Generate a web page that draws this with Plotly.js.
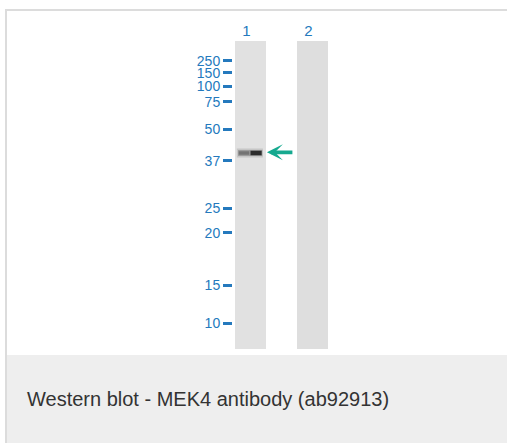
<!DOCTYPE html>
<html>
<head>
<meta charset="utf-8">
<script src="https://cdn.plot.ly/plotly-3.0.1.min.js"></script>
<style>
html,body{margin:0;padding:0;background:#fff;}
#chart{width:507px;height:443px;}
</style>
</head>
<body>
<div id="chart"></div>
<script>
// ---- data ----
const laneLabels = ['1', '2'];
const laneIndex = [1, 2];
const laneRunLength = [308, 308];          // gel run length (migration units)
const ladderKDa = ['250', '150', '100', '75', '50', '37', '25', '20', '15', '10'];
const ladderMigration = [19.7, 31.7, 45, 60.7, 88.3, 119.7, 167.3, 191.7, 244, 282.3];
const bandLane = [1];
const bandMigration = [112];
const captionText = 'Western blot - MEK4 antibody (ab92913)';

// ---- layout helpers (pixel geometry) ----
const W = 507, H = 443;
const mL = 200, mR = 177, mT = 41, mB = 94;
const plotW = W - mL - mR, plotH = H - mT - mB;
const px2paperX = p => (p - mL) / plotW;
const px2paperY = p => (H - mB - p) / plotH;

const blue = '#2479bd';
const laneColors = ['#e1e1e1', '#dedede'];

const traces = [];
traces.push({
  type: 'bar', x: laneIndex, y: laneRunLength, base: 0, width: 0.5,
  marker: {color: laneColors, line: {width: 0}},
  hoverinfo: 'skip', showlegend: false
});
// band: soft halo, light left half, dark right half
bandLane.forEach((ln, i) => {
  const m = bandMigration[i];
  traces.push({type: 'scatter', mode: 'lines', x: [ln - 0.22, ln + 0.2], y: [m, m],
    line: {color: 'rgba(80,80,80,0.18)', width: 9}, hoverinfo: 'skip', showlegend: false});
  traces.push({type: 'scatter', mode: 'lines', x: [ln - 0.2, ln + 0.19], y: [m, m],
    line: {color: 'rgba(60,60,60,0.3)', width: 6}, hoverinfo: 'skip', showlegend: false});
  traces.push({type: 'scatter', mode: 'lines', x: [ln - 0.19, ln - 0.02], y: [m, m],
    line: {color: '#747474', width: 3.5}, hoverinfo: 'skip', showlegend: false});
  traces.push({type: 'scatter', mode: 'lines', x: [ln - 0.0, ln + 0.18], y: [m, m],
    line: {color: '#2c2c2c', width: 4.5}, hoverinfo: 'skip', showlegend: false});
});

const shapes = [
  // caption panel
  {type: 'rect', xref: 'paper', yref: 'paper', x0: px2paperX(7), x1: px2paperX(507),
   y0: px2paperY(443), y1: px2paperY(355), fillcolor: '#eeeeee', line: {width: 0}, layer: 'below'},
  // frame lines
  {type: 'line', xref: 'paper', yref: 'paper', x0: px2paperX(5), x1: px2paperX(507),
   y0: px2paperY(10), y1: px2paperY(10), line: {color: '#dcdcdc', width: 2}},
  {type: 'line', xref: 'paper', yref: 'paper', x0: px2paperX(6), x1: px2paperX(6),
   y0: px2paperY(9), y1: px2paperY(443), line: {color: '#dcdcdc', width: 2}}
];

const annotations = [
  {xref: 'paper', yref: 'paper', x: px2paperX(25), y: px2paperY(399), xanchor: 'left', yanchor: 'middle',
   text: captionText, showarrow: false, font: {family: 'Liberation Sans, Arial, sans-serif', size: 20, color: '#333333'}}
];
bandLane.forEach((ln, i) => {
  annotations.push({x: ln + 0.265, y: bandMigration[i] - 0.7, ax: ln + 0.70, ay: bandMigration[i] - 0.7,
    xref: 'x', yref: 'y', axref: 'x', ayref: 'y', text: '', showarrow: true,
    arrowhead: 3, arrowsize: 0.7, arrowwidth: 3.8, arrowcolor: '#15a98f', standoff: 0});
});

const layout = {
  width: W, height: H,
  margin: {l: mL, r: mR, t: mT, b: mB, pad: 0},
  paper_bgcolor: '#ffffff', plot_bgcolor: '#ffffff',
  showlegend: false,
  xaxis: {
    domain: [px2paperX(233), 1], range: [1 - 17.5 / 62, 2 + 17.5 / 62],
    side: 'top', tickvals: laneIndex, ticktext: laneLabels, ticks: '',
    ticklabelshift: -4, ticklabelstandoff: 1,
    showgrid: false, zeroline: false, showline: false, fixedrange: true,
    tickfont: {family: 'Liberation Sans, Arial, sans-serif', size: 15, color: blue}
  },
  yaxis: {
    range: [plotH, 0], anchor: 'free', position: px2paperX(232),
    tickvals: ladderMigration, ticktext: ladderKDa,
    ticks: 'outside', ticklen: 9, tickwidth: 3, tickcolor: blue,
    showgrid: false, zeroline: false, showline: false, fixedrange: true,
    tickfont: {family: 'Liberation Sans, Arial, sans-serif', size: 14, color: blue}
  },
  bargap: 0,
  shapes: shapes,
  annotations: annotations
};

Plotly.newPlot('chart', traces, layout, {displayModeBar: false, staticPlot: true});
</script>
</body>
</html>
